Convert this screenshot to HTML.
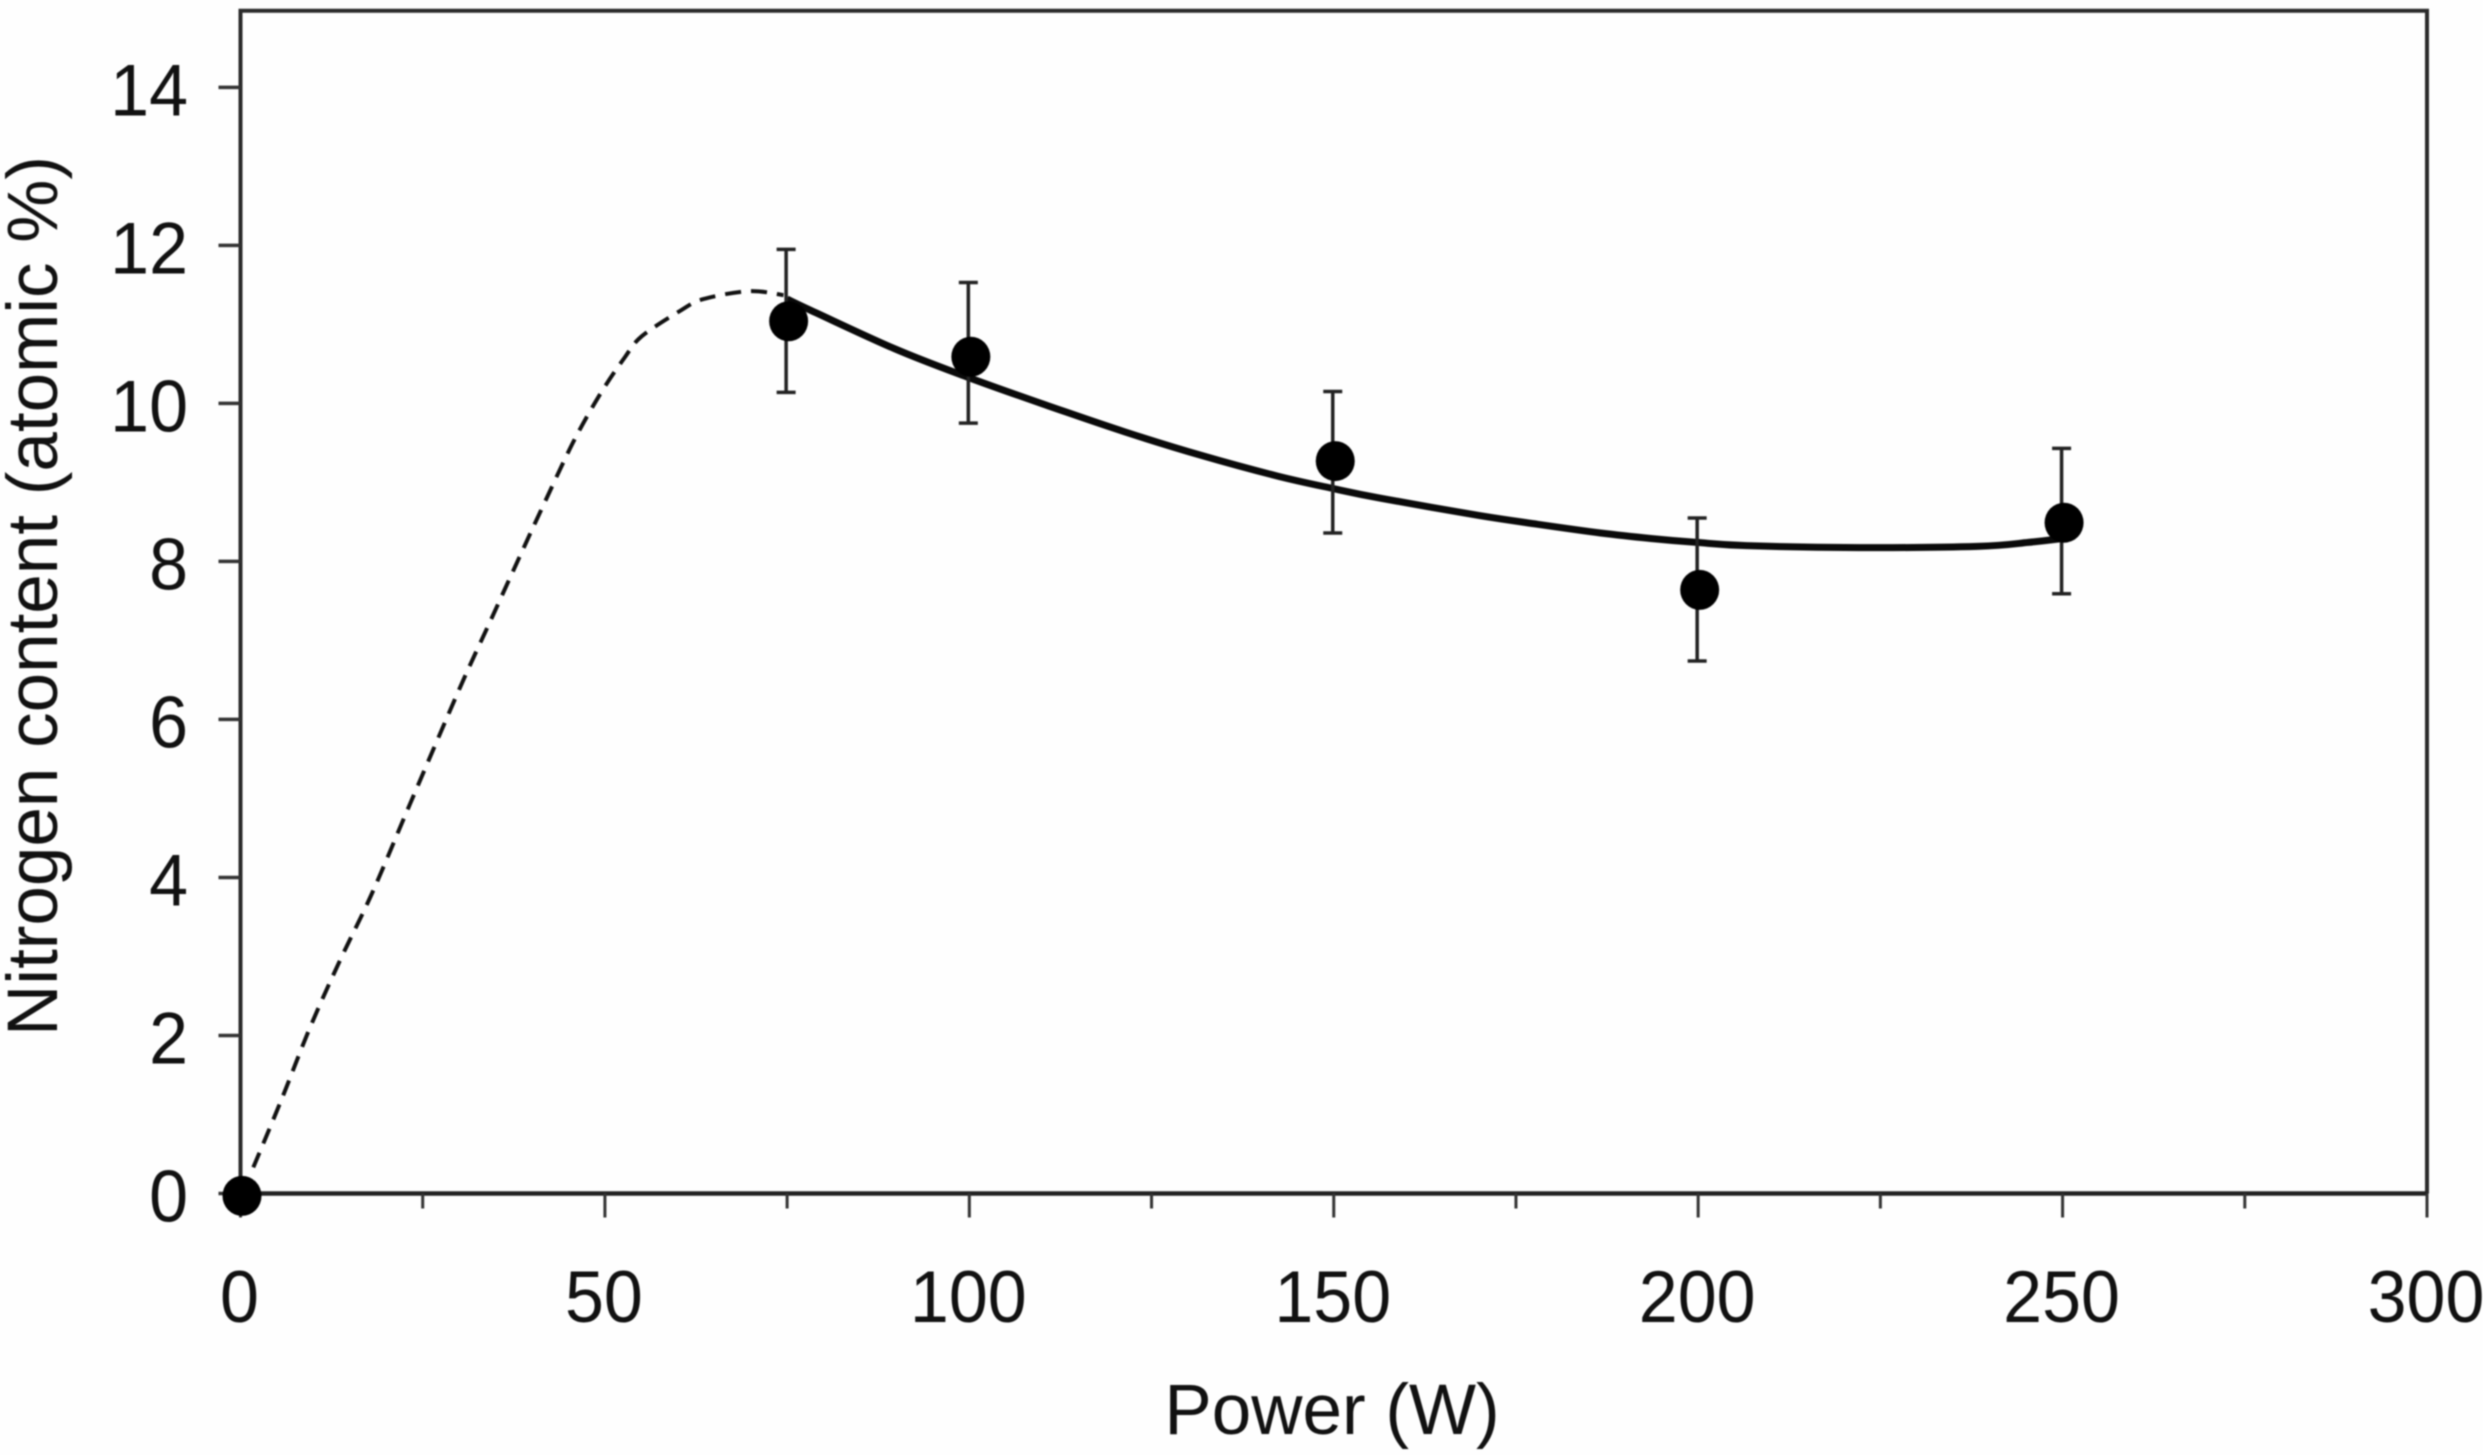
<!DOCTYPE html>
<html>
<head>
<meta charset="utf-8">
<title>Nitrogen content vs power</title>
<style>
html,body{margin:0;padding:0;background:#fefefe;}
svg{display:block;filter:blur(0.8px);}
text{font-family:"Liberation Sans",Arial,sans-serif;fill:#111;}
</style>
</head>
<body>
<svg id="chart" xmlns="http://www.w3.org/2000/svg" width="2483" height="1455" viewBox="0 0 2483 1455"></svg>
<script>
const powerValues = [0, 75, 100, 150, 200, 250];
const nitrogenValues = [-0.03, 11.04, 10.59, 9.27, 7.64, 8.49];
const errorUpper = [null, 11.95, 11.53, 10.15, 8.55, 9.43];
const errorLower = [null, 10.14, 9.75, 8.36, 6.74, 7.59];
const solidFitX = [75, 78.2, 89.8, 99.8, 110.8, 121.3, 131.9, 142.3, 150, 156.4, 170, 178, 186.6, 193.5, 199.8, 206.6, 222, 238.3, 245.3, 250];
const solidFitY = [11.32, 11.18, 10.69, 10.33, 9.97, 9.64, 9.34, 9.08, 8.92, 8.8, 8.58, 8.47, 8.36, 8.29, 8.24, 8.2, 8.175, 8.19, 8.24, 8.29];
const dashedFitX = [1.76, 5.65, 9.54, 13.65, 18, 23.26, 30.1, 34.3, 38.5, 41.4, 45.6, 49.3, 52.7, 55.06, 60.3, 63.5, 69.8, 74.5];
const dashedFitY = [0.33, 1.195, 2.1, 2.95, 3.79, 4.93, 6.4, 7.25, 8.1, 8.68, 9.5, 10.11, 10.58, 10.85, 11.17, 11.32, 11.42, 11.37];
const xMajorTicks = [0, 50, 100, 150, 200, 250, 300];
const xMinorTicks = [25, 75, 125, 175, 225, 275];
const yTicks = [0, 2, 4, 6, 8, 10, 12, 14];

const svg = document.getElementById('chart');
const NS = 'http://www.w3.org/2000/svg';
const plot = {left: 240.5, right: 2427, top: 10.7, bottom: 1193.5};
const xMax = 300, yMax = 14.97;
function sx(v) { return plot.left + v / xMax * (plot.right - plot.left); }
function sy(v) { return plot.bottom - v / yMax * (plot.bottom - plot.top); }
function make(tag, attrs, text) {
  const el = document.createElementNS(NS, tag);
  for (const k in attrs) el.setAttribute(k, attrs[k]);
  if (text !== undefined) el.textContent = text;
  svg.appendChild(el);
  return el;
}
function smoothPath(xs, ys) {
  const p = xs.map((x, i) => [sx(x), sy(ys[i])]);
  let d = 'M' + p[0][0].toFixed(1) + ' ' + p[0][1].toFixed(1);
  for (let i = 0; i < p.length - 1; i++) {
    const a = p[Math.max(i - 1, 0)], b = p[i], c = p[i + 1], e = p[Math.min(i + 2, p.length - 1)];
    d += ' C' + (b[0] + (c[0] - a[0]) / 6).toFixed(1) + ' ' + (b[1] + (c[1] - a[1]) / 6).toFixed(1) +
         ' ' + (c[0] - (e[0] - b[0]) / 6).toFixed(1) + ' ' + (c[1] - (e[1] - b[1]) / 6).toFixed(1) +
         ' ' + c[0].toFixed(1) + ' ' + c[1].toFixed(1);
  }
  return d;
}

let el;
el = make('rect', {x: 0, y: 0, width: 2483, height: 1455, fill: '#fefefe'});



el = make('path', {d: 'M' + plot.left + ' ' + plot.bottom + ' V' + plot.top + ' H' + plot.right + ' V' + plot.bottom, fill: 'none', stroke: '#2a2a2a', 'stroke-width': 4});



el = make('line', {x1: plot.left, x2: plot.right, y1: plot.bottom, y2: plot.bottom, stroke: '#222', 'stroke-width': 4.5});



xMajorTicks.forEach(t => {
  const tick = make('line', {x1: sx(t), x2: sx(t), y1: plot.bottom, y2: plot.bottom + 24, stroke: '#333', 'stroke-width': 3});
  
  
  const label = make('text', {'font-size': 70, 'text-anchor': 'middle', transform: 'translate(' + (sx(t) - 1) + ' 1322) scale(1 1.05)'}, String(t));
  
  
});
xMinorTicks.forEach(t => {
  const tick = make('line', {x1: sx(t), x2: sx(t), y1: plot.bottom, y2: plot.bottom + 15, stroke: '#333', 'stroke-width': 3});
  
  
});
yTicks.forEach(t => {
  const tick = make('line', {x1: plot.left - 22, x2: plot.left, y1: sy(t), y2: sy(t), stroke: '#333', 'stroke-width': 3.5});
  
  
  const label = make('text', {'font-size': 70, 'text-anchor': 'end', transform: 'translate(188 ' + (sy(t) + 28) + ') scale(1 1.05)'}, String(t));
  
  
});

el = make('path', {d: smoothPath(dashedFitX, dashedFitY), fill: 'none', stroke: '#111', 'stroke-width': 4, 'stroke-dasharray': '16 10'});



el = make('path', {d: smoothPath(solidFitX, solidFitY), fill: 'none', stroke: '#0a0a0a', 'stroke-width': 7});



powerValues.forEach((p, i) => {
  if (errorUpper[i] !== null) {
    const x = sx(p) - 1;
    const bar = make('path', {
      d: 'M' + x + ' ' + sy(errorUpper[i]) + ' V' + sy(errorLower[i]) +
         ' M' + (x - 9.5) + ' ' + sy(errorUpper[i]) + ' H' + (x + 9.5) +
         ' M' + (x - 9.5) + ' ' + sy(errorLower[i]) + ' H' + (x + 9.5),
      fill: 'none', stroke: '#222', 'stroke-width': 3.5
    });
    
    
  }
  const dot = make('ellipse', {cx: sx(p) + 1.5, cy: sy(nitrogenValues[i]), rx: 19.5, ry: 20, fill: '#000'});
  
  
});

el = make('text', {x: 1332, y: 1434, 'font-size': 71, 'text-anchor': 'middle'}, 'Power (W)');



el = make('text', {x: 0, y: 0, 'font-size': 71, 'text-anchor': 'middle', transform: 'translate(57 596) rotate(-90)'}, 'Nitrogen content (atomic %)');


</script>
</body>
</html>
